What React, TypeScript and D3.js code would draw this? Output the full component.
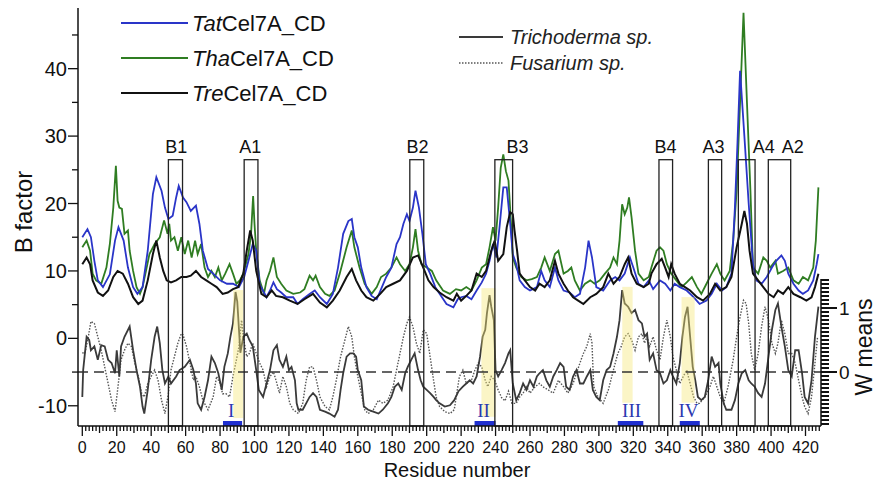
import React from 'react';
import * as d3 from 'd3';

type Pt = [number, number];

// B factor per residue: [residue, B]
const tatB: Pt[] = [
  [0, 15], [3, 16.2], [5, 15], [7, 11.5], [9, 8.6], [12, 7.6], [16, 9.5], [19, 14.5], [21, 16.5], [24, 14.5],
  [26.5, 10.5], [29.5, 7.6], [32, 6.6], [35, 7.6], [38, 13], [41, 21.4], [43, 23.9], [46, 21.9], [48, 19.4], [50, 17.7],
  [52.5, 18.2], [54.5, 20.9], [56, 22.6], [58.5, 20.9], [60.5, 20.2], [63, 18.9], [66, 19.7], [68, 17], [70, 13], [73, 10.3],
  [76, 9.6], [80, 8.6], [84, 8.1], [87.5, 8.1], [91, 7.6], [94, 9.1], [97, 12], [99, 14], [101, 13], [103, 8],
  [107, 6.1], [109, 7.1], [111, 8.3], [113, 7.3], [115.5, 6.8], [118.5, 6.1], [122.5, 6.1], [125, 5.1], [128, 5.8], [132, 6.6],
  [135, 7.1], [138, 6.1], [142, 5.1], [145.5, 6.6], [148.5, 10.5], [151.5, 15.5], [154.5, 17.4], [156.5, 17.7], [158, 15], [160, 13.5],
  [162, 10.5], [165, 7.6], [168, 6.3], [171, 5.8], [174, 7.6], [176.5, 9.1], [179.5, 10.5], [182.5, 14], [184.5, 15], [186.5, 17],
  [188.5, 18.4], [190, 17.4], [192, 19.4], [193.5, 21.9], [195.5, 19.4], [197.5, 15.5], [199.5, 11], [202, 9.6], [205, 7.6], [207.5, 6.6],
  [211.5, 5.1], [215.5, 4.6], [218, 5.8], [220, 6.1], [223, 6.3], [226, 5.8], [229, 7.1], [232, 8.3], [234.5, 9.6], [236.5, 11.5],
  [238.5, 14], [240.5, 12], [242.5, 17], [244.5, 22.4], [246.5, 22.4], [248.5, 17], [250, 12.5], [252, 11], [254, 8.6], [257, 7.6],
  [260, 7.1], [264, 7.6], [266.5, 10], [268.5, 8.6], [271.5, 7.6], [274.5, 10.5], [276.5, 8.6], [279.5, 7.1], [283, 6.8], [286, 6.1],
  [289, 6.6], [292, 10.5], [294, 14.5], [296, 12], [298.5, 7.6], [302.5, 7.1], [306.5, 8.6], [309.5, 9.1], [312, 8.6], [315, 9.6],
  [318, 12], [320, 10.5], [323, 8.1], [326, 7.6], [329, 8.6], [331.5, 7.3], [335.5, 8.6], [338.5, 8.1], [341.5, 7.1], [344, 8.1],
  [347, 7.6], [351, 7.1], [355, 6.1], [358.5, 5.1], [362.5, 5.6], [365.5, 6.6], [368.5, 8.1], [371.5, 7.1], [374, 7.6], [377, 9.6],
  [379, 19.4], [380.5, 29], [382, 39.7], [384.5, 30], [387, 20], [389.5, 11], [391.5, 8.6], [394.5, 8.1], [397.5, 9.1], [400.5, 10.5],
  [403, 11.5], [406, 12.3], [408, 11.5], [410, 9.6], [413, 8.1], [416, 7.1], [418.5, 6.6], [421.5, 7.1], [424.5, 8.6], [426.5, 11],
  [427.5, 12.5],
];

const thaB: Pt[] = [
  [0, 13.5], [2.5, 14.5], [4.5, 13], [6, 9.6], [8, 8.6], [11, 8.1], [14, 10.5], [16, 14], [18, 19.4], [19.5, 25.6],
  [20.5, 20.4], [21.5, 19.4], [23, 19.2], [24.5, 15.5], [26.5, 16], [27.5, 13], [29.5, 10], [31.5, 7.6], [33.5, 6.6], [35, 7.6],
  [37, 10], [39, 12.5], [42, 14], [45, 15], [47.5, 17.5], [49.5, 15.5], [50.5, 17], [51.5, 14.5], [53.5, 15], [55.5, 13],
  [57.5, 15], [59.5, 12.5], [61.5, 14.5], [63.5, 12], [65.5, 14.5], [67, 12.5], [69, 14], [71, 10.5], [73, 9.1], [75, 10],
  [77, 9.1], [79, 10.5], [81, 8.6], [83, 9.6], [85.5, 11], [87.5, 9.6], [89.5, 8.1], [91.5, 8.6], [93.5, 9.6], [96.5, 12.5],
  [98, 15.5], [99.2, 21.1], [100, 17], [101, 13], [103, 8.6], [105.5, 6.6], [107, 8.6], [109, 10], [111, 12], [113, 9.1],
  [115.5, 8.1], [118.5, 7.1], [122.5, 6.6], [126.5, 6.8], [129, 7.3], [132, 9.3], [134, 8.6], [135.5, 9.3], [138, 7.6], [141, 6.6],
  [143.5, 6.3], [146.5, 7.1], [149.5, 9.6], [153.5, 13.5], [156.5, 16], [158, 13.5], [161, 10.5], [164, 8.1], [168, 6.6], [171, 7.6],
  [173.5, 9.1], [176.5, 9.6], [179.5, 10.5], [182.5, 12], [184.5, 11], [187.5, 10], [190, 11], [192, 13.5], [193.5, 16.2], [195, 13],
  [197, 11], [200, 10.5], [203, 10], [205.5, 8.6], [209.5, 7.1], [213.5, 6.6], [217, 7.3], [220, 7.1], [223, 7.6], [226, 7.1],
  [229, 8.6], [232, 10.5], [234.5, 11], [236.5, 13.5], [238.5, 16.5], [240, 14.5], [241.5, 19.4], [243, 25.3], [244.5, 27.3], [246, 24.8],
  [247.5, 23.4], [249, 17], [250, 12], [252, 10.5], [255, 9.1], [258, 8.6], [261, 8.8], [264, 9.1], [266.5, 10.5], [268.5, 12],
  [271.5, 10], [274.5, 12.5], [276.5, 13], [279.5, 9.6], [282, 10], [284, 10.5], [286, 8.6], [289, 7.1], [292, 8.1], [295, 8.6],
  [297.5, 8.1], [300.5, 8.6], [303.5, 9.6], [306.5, 10.5], [308.5, 12], [310.5, 11], [312, 14.5], [313.5, 19.9], [315, 18.4], [316.5, 19.4],
  [317.5, 20.9], [319, 17.9], [321, 13], [323, 9.6], [326, 8.6], [329, 9.1], [330.5, 10.5], [333.5, 13], [335.5, 13.5], [337.5, 13],
  [339.5, 11], [342, 9.6], [345, 8.6], [348, 7.6], [351, 8.3], [354, 9.1], [357, 7.6], [359.5, 6.6], [362.5, 8.1], [365.5, 9.6],
  [368.5, 11], [370.5, 9.6], [373, 8.6], [376, 10], [378, 14.5], [380, 21.9], [382, 35], [384, 48.3], [386, 35], [388, 22],
  [389.5, 10.5], [392.5, 9.6], [395.5, 12], [397.5, 11.5], [399.5, 10.5], [402.5, 11.5], [404, 9.6], [407, 10], [410, 10.5], [413, 8.6],
  [416, 8.1], [418.5, 9.1], [421.5, 8.6], [424.5, 10.5], [426, 14.5], [427.5, 22.4],
];

const treB: Pt[] = [
  [0, 11], [2.5, 12], [4.5, 11], [6, 8.6], [9, 6.8], [12, 6.3], [15, 7.1], [18, 9.1], [20.5, 10], [23.5, 9.6],
  [26.5, 8.1], [29.5, 6.1], [32.5, 5.1], [35, 5.6], [38, 8.6], [41, 12.5], [43, 14.5], [45, 12], [47, 10], [49, 8.6],
  [51.5, 8.3], [54.5, 8.6], [57.5, 9.1], [60.5, 9.1], [63, 9.3], [66, 10], [69, 9.1], [72, 8.6], [75, 8.1], [78, 7.6],
  [81.5, 6.6], [84.5, 6.8], [87.5, 7.3], [90.5, 7.6], [93.5, 9.6], [95.5, 13], [97.5, 16], [99, 14.5], [101, 10], [104, 6.6],
  [107, 6.1], [110, 7.1], [112.5, 6.3], [116.5, 6.1], [120.5, 5.6], [125, 5.1], [129, 5.8], [134, 6.6], [138, 5.3], [142, 4.6],
  [145.5, 5.6], [149.5, 7.1], [153.5, 9.1], [156.5, 10.3], [159, 8.6], [162, 7.1], [165, 6.1], [169, 5.6], [173, 6.6], [176.5, 7.6],
  [180.5, 8.1], [184.5, 8.6], [188.5, 10], [192, 12], [195, 12.3], [198, 10.5], [201, 8.6], [204, 7.6], [207.5, 6.8], [211.5, 6.1],
  [215.5, 5.6], [217.5, 6.6], [220, 5.6], [223, 6.3], [226, 7.1], [229, 9.6], [232, 9.1], [234.5, 10], [237.5, 13], [239.5, 14.5],
  [241.5, 11.5], [244.5, 12.5], [246.5, 16.5], [248.5, 18.7], [250, 18.4], [251, 16], [252.5, 13], [254, 9.6], [257, 8.6], [260, 7.6],
  [263, 7.1], [265.5, 8.1], [268.5, 7.6], [271.5, 8.6], [274.5, 11.5], [276.5, 9.6], [279.5, 8.1], [282, 7.1], [285, 6.1], [288, 5.6],
  [291, 5.1], [295, 6.1], [298.5, 6.6], [302.5, 7.6], [305.5, 9.6], [308.5, 8.1], [312, 9.1], [315, 11], [317, 12], [319, 9.6],
  [322, 8.1], [326, 7.6], [329, 8.1], [330.5, 9.6], [333.5, 11], [336.5, 11.8], [338.5, 10.5], [340.5, 9.1], [342, 11], [344, 9.6],
  [347, 8.1], [350, 7.6], [353, 7.1], [357, 6.1], [360.5, 5.6], [364.5, 6.6], [367.5, 8.1], [370.5, 7.1], [374, 7.6], [377, 9.1],
  [380, 13.5], [383, 17], [384.5, 18.9], [386, 17], [387.5, 13], [389.5, 9.6], [392.5, 8.6], [395.5, 7.6], [398.5, 6.6], [401.5, 6.1],
  [404, 7.1], [407, 6.6], [410, 7.6], [413, 6.6], [417, 6.1], [420.5, 5.6], [423.5, 6.1], [425.5, 7.6], [427.5, 9.6],
];

// W means per residue: [residue, W]
const trichodermaW: Pt[] = [
  [0, -0.39], [0.5, 0.03], [2.5, 0.55], [4, 0.5], [5, 0.34], [7, 0.4], [9, 0.19], [11, 0.42], [13, 0.4], [15, 0.19],
  [17, 0.14], [19, -0.02], [20, 0.34], [21.5, -0.07], [22.5, 0.4], [24.5, 0.55], [27.5, 0.71], [29.5, 0.34], [31.5, 0.03], [33.5, -0.23],
  [35, -0.54], [36, -0.65], [38, -0.28], [40, 0.19], [42, 0.55], [43.5, 0.71], [45, 0.45], [46.5, 0.03], [48, -0.18], [50, -0.07],
  [51.5, -0.18], [54.5, -0.07], [56.5, 0.03], [59.5, 0.08], [62.5, 0.19], [64.5, 0.03], [66, -0.18], [67, -0.49], [69, -0.59], [71, -0.39],
  [73, -0.13], [75, 0.24], [77, 0.14], [79, -0.02], [81, -0.28], [82.5, 0.08], [84.5, 0.29], [86, 0.55], [87.5, 0.76], [89, 1.25],
  [90, 1.1], [91.8, 0.3], [93.5, 0.55], [95.5, 0.6], [97, 0.5], [99, 0.4], [101, 0.03], [102.5, -0.28], [105, -0.39], [107, -0.18],
  [109, 0.03], [111, 0.34], [113, 0.42], [114.5, 0.19], [116.5, 0.08], [118.5, 0.24], [120, 0.03], [121.5, 0.08], [123.5, -0.13], [124.5, -0.49],
  [125.5, -0.59], [128, -0.59], [130, -0.49], [132, -0.39], [134, -0.33], [136, -0.39], [138, -0.59], [141, -0.62], [143.5, -0.65], [146.5, -0.7],
  [148.5, -0.59], [150, -0.28], [151.5, -0.02], [153.5, 0.24], [155.5, 0.29], [157.5, 0.29], [159, 0.24], [160, 0.03], [162, -0.13], [163.5, -0.54],
  [166, -0.59], [169, -0.62], [172, -0.65], [174.5, -0.59], [177.5, -0.49], [179.5, -0.39], [181.5, -0.23], [183.5, -0.18], [185.5, -0.28], [187.5, -0.02],
  [189, 0.08], [191, 0.19], [193, 0.29], [195, 0.03], [196.5, -0.13], [198, -0.23], [200, -0.28], [202, -0.33], [204, -0.39], [205.5, -0.44],
  [207.5, -0.49], [210.5, -0.54], [213.5, -0.52], [216, -0.44], [218.5, -0.3], [221, -0.23], [223, -0.18], [225, -0.13], [227, -0.18], [229, -0.07],
  [231, 0.24], [232.5, 0.55], [234, 0.66], [235, 0.92], [236.5, 1.2], [237.5, 1.02], [239, 0.81], [240, 0.03], [241.5, -0.07], [243.5, 0.03],
  [245.5, 0.14], [247.5, 0.29], [248.5, 0.34], [250, -0.18], [252, -0.44], [254, -0.33], [256, -0.18], [258, -0.28], [260, -0.13], [262, -0.23],
  [264, -0.07], [265.5, -0.02], [267.5, 0.03], [269.5, -0.13], [271.5, -0.23], [273.5, -0.07], [275.5, 0.03], [277.5, 0.14], [279.5, 0.08], [281, -0.23],
  [283, -0.28], [285, -0.07], [287, 0.03], [289, -0.18], [291, -0.18], [293, -0.07], [295, 0.03], [296.5, -0.28], [298.5, -0.39], [300.5, -0.44],
  [302.5, -0.13], [304.5, 0.03], [306.5, 0.08], [308.5, 0.29], [310.5, 0.55], [312, 0.81], [313.5, 1.28], [315, 1.07], [317, 1.02], [319, 0.92],
  [321, 0.97], [323, 0.81], [325, 0.76], [326.5, 0.55], [328, 0.6], [329.5, 0.19], [331.5, 0.29], [333.5, 0.03], [335.5, -0.02], [337.5, -0.18],
  [339.5, -0.13], [341.5, 0.03], [343, -0.07], [345, -0.18], [347, 0.14], [348.5, 0.55], [350, 0.86], [351.5, 1.02], [353, 0.55], [354.5, 0.08],
  [356, -0.13], [357.5, -0.39], [359.5, -0.44], [361.5, -0.39], [363.5, -0.13], [365.5, 0.24], [367.5, 0.08], [369.5, 0.14], [370.5, -0.18], [372.5, -0.49],
  [374, -0.59], [377, -0.59], [379, -0.44], [381, -0.18], [383, -0.02], [385, 0.03], [387, -0.13], [388.5, -0.18], [390.5, -0.23], [392.5, -0.33],
  [394.5, -0.39], [396.5, -0.18], [398.5, 0.24], [400.5, 0.66], [402.5, 0.97], [404, 1.07], [406, 0.71], [408, 0.4], [410, 0.03], [412, -0.07],
  [414, 0.34], [416, 0.34], [418, -0.02], [419.5, -0.39], [421.5, -0.49], [423.5, -0.13], [425.5, 0.55], [427.5, 1.02],
];

const fusariumW: Pt[] = [
  [0, 0.3], [1.5, 0.29], [3.5, 0.55], [5, 0.79], [7, 0.76], [9, 0.55], [11, 0.34], [13, 0.08], [15, -0.18], [17, -0.44],
  [19, -0.62], [20.5, -0.28], [22.5, 0.19], [24.5, 0.34], [26.5, 0.45], [28.5, 0.4], [30.5, 0.14], [32.5, -0.07], [34.5, -0.34], [36, -0.39],
  [38, -0.18], [40, -0.07], [42, 0.03], [44, -0.13], [46, -0.44], [48, -0.65], [50, -0.34], [51.5, 0.03], [53.5, 0.24], [55.5, 0.45],
  [57.5, 0.6], [58.5, 0.58], [60.5, 0.4], [62.5, 0.14], [64.5, -0.13], [66, -0.07], [68, -0.23], [70, -0.44], [73, -0.59], [76, -0.39],
  [78, -0.07], [80, -0.18], [81.5, -0.34], [83.5, -0.34], [85.5, -0.39], [87.5, -0.07], [89.5, 0.19], [91, 0.4], [92.5, 0.81], [93.5, 0.55],
  [95.5, 0.24], [97, 0.29], [99, 0.45], [101, 0.29], [103, 0.14], [105, 0.03], [107, -0.23], [109, -0.07], [111, 0], [112.5, -0.13],
  [114.5, -0.33], [116.5, -0.07], [118.5, -0.23], [120.5, -0.49], [122.5, -0.59], [125.5, -0.65], [128, -0.49], [130, -0.13], [132, 0.08], [134, 0.08],
  [136, -0.13], [138, -0.39], [141, -0.54], [143.5, -0.59], [145.5, -0.39], [147.5, -0.13], [150, 0.24], [152.5, 0.5], [154.5, 0.71], [156.5, 0.55],
  [158, 0.24], [160, -0.07], [162, -0.33], [164, -0.59], [166, -0.65], [169, -0.59], [172, -0.44], [174.5, -0.49], [177.5, -0.44], [180.5, -0.23],
  [182.5, 0.03], [184.5, 0.29], [186.5, 0.55], [188.5, 0.76], [190, 0.86], [192, 0.71], [194, 0.45], [196, 0.29], [198, 0.66], [200, 0.6],
  [202, 0.24], [204, -0.13], [205.5, -0.39], [207.5, -0.54], [210.5, -0.62], [213.5, -0.65], [216, -0.59], [217.5, -0.33], [219, -0.07], [221, 0.03],
  [223, -0.18], [226, -0.13], [228, 0.03], [230, 0.14], [232, 0.08], [234, -0.13], [235.5, -0.23], [237.5, -0.07], [239.5, -0.13], [241.5, -0.28],
  [243.5, -0.4], [245.5, -0.45], [247.5, -0.3], [249.5, -0.49], [252, -0.49], [254, -0.39], [256, -0.33], [258, -0.23], [260, -0.33], [263, -0.23],
  [265.5, -0.18], [267.5, -0.23], [270.5, -0.28], [273.5, -0.33], [276.5, -0.13], [279.5, -0.23], [282, -0.33], [285, -0.18], [287, -0.02], [289, 0.14],
  [291, 0.29], [293, 0.4], [295, 0.6], [296, 0.45], [297, -0.23], [299.5, -0.39], [302.5, -0.49], [305.5, -0.28], [307.5, -0.07], [309.5, 0.14],
  [311, 0.29], [313, 0.4], [315, 0.55], [317, 0.6], [319, 0.5], [321, 0.34], [323, 0.55], [325, 0.6], [326.5, 0.45], [328, 0.55],
  [329.5, 0.4], [331.5, 0.55], [333.5, 0.34], [335.5, 0.19], [337.5, 0.55], [339.5, 0.81], [341.5, 0.55], [343, 0.24], [345, 0.03], [347, -0.18],
  [349, -0.07], [351, 0.03], [353, -0.18], [355, -0.39], [357, -0.49], [358.5, -0.49], [361.5, -0.39], [364.5, -0.23], [366.5, -0.07], [368.5, -0.23],
  [370.5, -0.39], [372.5, -0.49], [375, -0.23], [378, 0.19], [380, 0.55], [382, 0.86], [384, 1.12], [385.5, 1.07], [387, 0.76], [388.5, 0.29],
  [390.5, 0.03], [392.5, 0.29], [394.5, 0.71], [396.5, 1.02], [398.5, 0.81], [400.5, 0.45], [402.5, 0.29], [404, 0.45], [406, 0.81], [408, 0.6],
  [410, 0.29], [412, 0.29], [414, 0.14], [416, -0.13], [418, -0.39], [419.5, -0.54], [421.5, -0.65], [423.5, -0.39], [425.5, 0.14], [427, 0.55],
];

// loop boxes: residue span, top in B units, label residue
const loopBoxes = [
  { name: 'B1', from: 50, to: 58.2, top: 26.5, labelAt: 54.6 },
  { name: 'A1', from: 94, to: 102, top: 26.5, labelAt: 97.6 },
  { name: 'B2', from: 190.2, to: 198.3, top: 26.5, labelAt: 194.7 },
  { name: 'B3', from: 239.6, to: 249.9, top: 26.5, labelAt: 252.8 },
  { name: 'B4', from: 334.9, to: 342.8, top: 26.5, labelAt: 338.7 },
  { name: 'A3', from: 363.6, to: 371.3, top: 26.5, labelAt: 366.6 },
  { name: 'A4', from: 381, to: 390.7, top: 26.5, labelAt: 395.7 },
  { name: 'A2', from: 398.4, to: 411.4, top: 26.5, labelAt: 412.6 },
];

// hydrophobic regions: highlighted span (W units), bar span, label residue
const regions = [
  { name: 'I', from: 87.6, to: 93.4, top: 1.28, bottom: -0.72, barFrom: 81.7, barTo: 92.8, labelAt: 86.5 },
  { name: 'II', from: 231.8, to: 240, top: 1.31, bottom: -0.7, barFrom: 227.8, barTo: 240, labelAt: 233 },
  { name: 'III', from: 313.6, to: 319.6, top: 1.33, bottom: -0.48, barFrom: 311, barTo: 325.8, labelAt: 319 },
  { name: 'IV', from: 348, to: 355.6, top: 1.17, bottom: -0.48, barFrom: 347, barTo: 358.6, labelAt: 352 },
];

const bTicks = [-10, 0, 10, 20, 30, 40];
const wTicks = [0, 1];
const residueTicks = [0, 20, 40, 60, 80, 100, 120, 140, 160, 180, 200, 220, 240, 260, 280, 300, 320, 340, 360, 380, 400, 420];

const bSeries = [
  { prefix: 'Tat', data: tatB, color: '#2a35c8' },
  { prefix: 'Tha', data: thaB, color: '#2f7d22' },
  { prefix: 'Tre', data: treB, color: '#111111' },
];

const W = 877;
const H = 484;
const left = 78;
const right = 821;
const top = 8;
const bottom = 426;
const wTop = 279;
const font = '"Liberation Sans", Arial, sans-serif';

export default function App() {
  const x = d3.scaleLinear().domain([-2.5, 429]).range([left, right]);
  const yB = d3.scaleLinear().domain([-13, 49]).range([bottom, top]);
  const yW = d3.scaleLinear().domain([-0.844, 1.453]).range([bottom, wTop]);

  const lineB = d3.line<Pt>().x(d => x(d[0])).y(d => yB(d[1]));
  const lineW = d3.line<Pt>().x(d => x(d[0])).y(d => yW(d[1]));

  const minorX = d3.range(0, 429, 2);
  const minorB = d3.range(-10, 49, 5);
  const minorW = d3.range(-0.8125, 1.44, 0.0625);

  return (
    <svg width={W} height={H} style={{ position: 'absolute', left: 0, top: 0, background: '#fff' }} fontFamily={font}>
      <defs>
        <clipPath id="plot">
          <rect x={left} y={top} width={right - left} height={bottom - top} />
        </clipPath>
      </defs>

      {/* W means lines */}
      <g clipPath="url(#plot)">
        <path d={lineW(fusariumW) || ''} fill="none" stroke="#555" strokeWidth={1.4} strokeDasharray="1.5,1.5" />
        <path d={lineW(trichodermaW) || ''} fill="none" stroke="#3a3a3a" strokeWidth={1.8} />
      </g>

      {/* B factor lines */}
      <g clipPath="url(#plot)">
        <path d={lineB(thaB) || ''} fill="none" stroke={bSeries[1].color} strokeWidth={1.8} />
        <path d={lineB(tatB) || ''} fill="none" stroke={bSeries[0].color} strokeWidth={1.8} />
        <path d={lineB(treB) || ''} fill="none" stroke={bSeries[2].color} strokeWidth={2} />
      </g>

      {/* highlighted regions */}
      {regions.map(r => (
        <g key={r.name}>
          <rect x={x(r.from)} y={yW(r.top)} width={x(r.to) - x(r.from)} height={yW(r.bottom) - yW(r.top)}
            fill="rgb(245,230,120)" opacity={0.42} />
          <rect x={x(r.barFrom)} y={bottom - 5} width={x(r.barTo) - x(r.barFrom)} height={5} fill="#1f2fd0" />
          <text x={x(r.labelAt)} y={bottom - 9} textAnchor="middle" fontFamily='"Liberation Serif", "Times New Roman", serif'
            fontSize={19} fill="#2a38b0">{r.name}</text>
        </g>
      ))}

      {/* dashed zero line of W */}
      <line x1={left} x2={right} y1={yW(0)} y2={yW(0)} stroke="#333" strokeWidth={1.6} strokeDasharray="10,6" />

      {/* loop boxes */}
      {loopBoxes.map(b => (
        <g key={b.name}>
          <rect x={x(b.from)} y={yB(b.top)} width={x(b.to) - x(b.from)} height={bottom - yB(b.top)}
            fill="none" stroke="#222" strokeWidth={1.3} />
          <text x={x(b.labelAt)} y={yB(b.top) - 7} textAnchor="middle" fontSize={18} fill="#111">{b.name}</text>
        </g>
      ))}

      {/* left axis */}
      <line x1={left} x2={left} y1={top} y2={bottom} stroke="#111" strokeWidth={1.5} />
      {minorB.map(v => (
        <line key={'mb' + v} x1={left} x2={left - (v % 10 === 0 ? 10 : 6)} y1={yB(v)} y2={yB(v)} stroke="#111" strokeWidth={1.3} />
      ))}
      {bTicks.map(v => (
        <text key={'bt' + v} x={left - 11} y={yB(v)} dy="0.35em" textAnchor="end" fontSize={20} fill="#111">{v}</text>
      ))}

      {/* bottom axis */}
      <line x1={left} x2={right} y1={bottom} y2={bottom} stroke="#111" strokeWidth={1.5} />
      {minorX.map(v => (
        <line key={'mx' + v} x1={x(v)} x2={x(v)} y1={bottom} y2={bottom + (v % 20 === 0 ? 10 : v % 10 === 0 ? 7 : 5)}
          stroke="#111" strokeWidth={1.3} />
      ))}
      {residueTicks.map(v => (
        <text key={'xt' + v} x={x(v)} y={453} textAnchor="middle" fontSize={16} fill="#111">{v}</text>
      ))}

      {/* right axis */}
      <line x1={right} x2={right} y1={wTop} y2={bottom} stroke="#111" strokeWidth={1.5} />
      {minorW.map(v => (
        <line key={'mw' + v} x1={right} x2={right + 8} y1={yW(v)} y2={yW(v)} stroke="#111" strokeWidth={2} />
      ))}
      {wTicks.map(v => (
        <g key={'wt' + v}>
          <line x1={right} x2={right + 16} y1={yW(v)} y2={yW(v)} stroke="#111" strokeWidth={2} />
          <text x={right + 18} y={yW(v)} dy="0.35em" fontSize={19} fill="#111">{v}</text>
        </g>
      ))}

      {/* axis titles */}
      <text transform="translate(24,212) rotate(-90)" textAnchor="middle" dy="0.35em" fontSize={24} fill="#111">B factor</text>
      <text x={457} y={477} textAnchor="middle" fontSize={20} fill="#111">Residue number</text>
      <text transform="translate(864,347) rotate(-90)" textAnchor="middle" dy="0.35em" fontSize={23} fill="#111">W means</text>

      {/* legend: B factor */}
      {bSeries.map((s, i) => (
        <g key={s.prefix}>
          <line x1={121} x2={188} y1={23 + i * 35} y2={23 + i * 35} stroke={s.color} strokeWidth={2} />
          <text x={192} y={23 + i * 35} dy="0.35em" fontSize={22} fill="#111">
            <tspan fontStyle="italic">{s.prefix}</tspan>Cel7A_CD
          </text>
        </g>
      ))}

      {/* legend: W means */}
      <line x1={459} x2={503} y1={37} y2={37} stroke="#3a3a3a" strokeWidth={1.8} />
      <text x={510} y={37} dy="0.35em" fontSize={20} fontStyle="italic" fill="#222">Trichoderma sp.</text>
      <line x1={459} x2={503} y1={63} y2={63} stroke="#555" strokeWidth={1.4} strokeDasharray="1.5,1.5" />
      <text x={510} y={63} dy="0.35em" fontSize={20} fontStyle="italic" fill="#222">Fusarium sp.</text>
    </svg>
  );
}
